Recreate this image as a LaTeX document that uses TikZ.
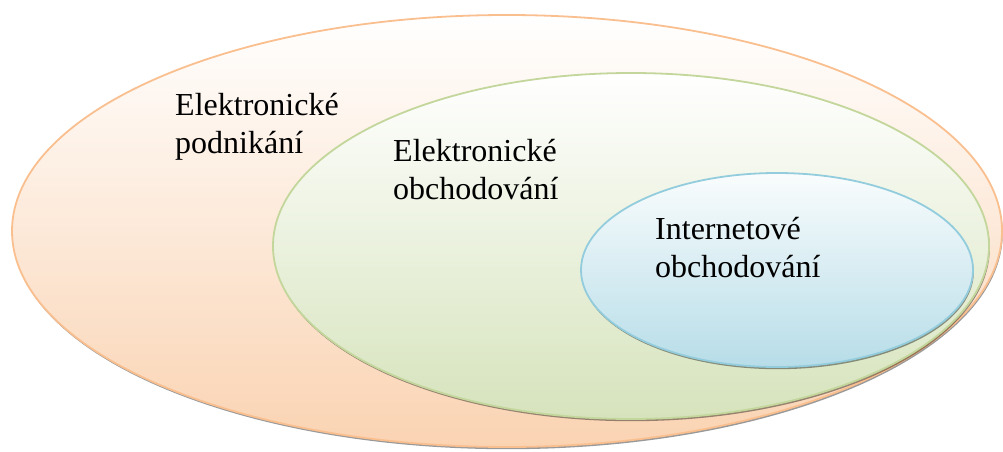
\documentclass[tikz,border=0pt]{standalone}
\usepackage{fontspec}
\setmainfont{Liberation Serif}
\usetikzlibrary{shapes.geometric,shadows}

\definecolor{bizline}{RGB}{250,191,143}
\definecolor{bizfill}{RGB}{250,211,178}
\definecolor{comline}{RGB}{195,214,155}
\definecolor{comfill}{RGB}{214,227,188}
\definecolor{netline}{RGB}{147,205,221}
\definecolor{netfill}{RGB}{183,221,232}

\begin{document}
\begin{tikzpicture}[x=1pt, y=1pt,
	oval/.style={ellipse, inner sep=0, line width=1.8pt, drop shadow={shadow xshift=0.8pt, shadow yshift=-2.2pt, opacity=0.4, fill=black}},
	txt/.style={font=\fontsize{32}{38}\selectfont, align=left, anchor=base west, inner sep=0}
]
\useasboundingbox (0,0) rectangle (1003,451);

\node[oval, draw=bizline, top color=white, bottom color=bizfill, minimum width=990, minimum height=432] (biz) at (507,220) {};
\node[oval, draw=comline, top color=white, bottom color=comfill, minimum width=716, minimum height=346] (com) at (631,205) {};
\node[oval, draw=netline, top color=white!60!netfill!20, bottom color=netfill, minimum width=392, minimum height=194] (net) at (777,181) {};

% base of the last line
\node[txt] (bizlbl) at (175,298) {Elektronické\\podnikání};
\node[txt] (comlbl) at (393,252) {Elektronické\\obchodování};
\node[txt] (netlbl) at (655,174) {Internetové\\obchodování};
\end{tikzpicture}
\end{document}
